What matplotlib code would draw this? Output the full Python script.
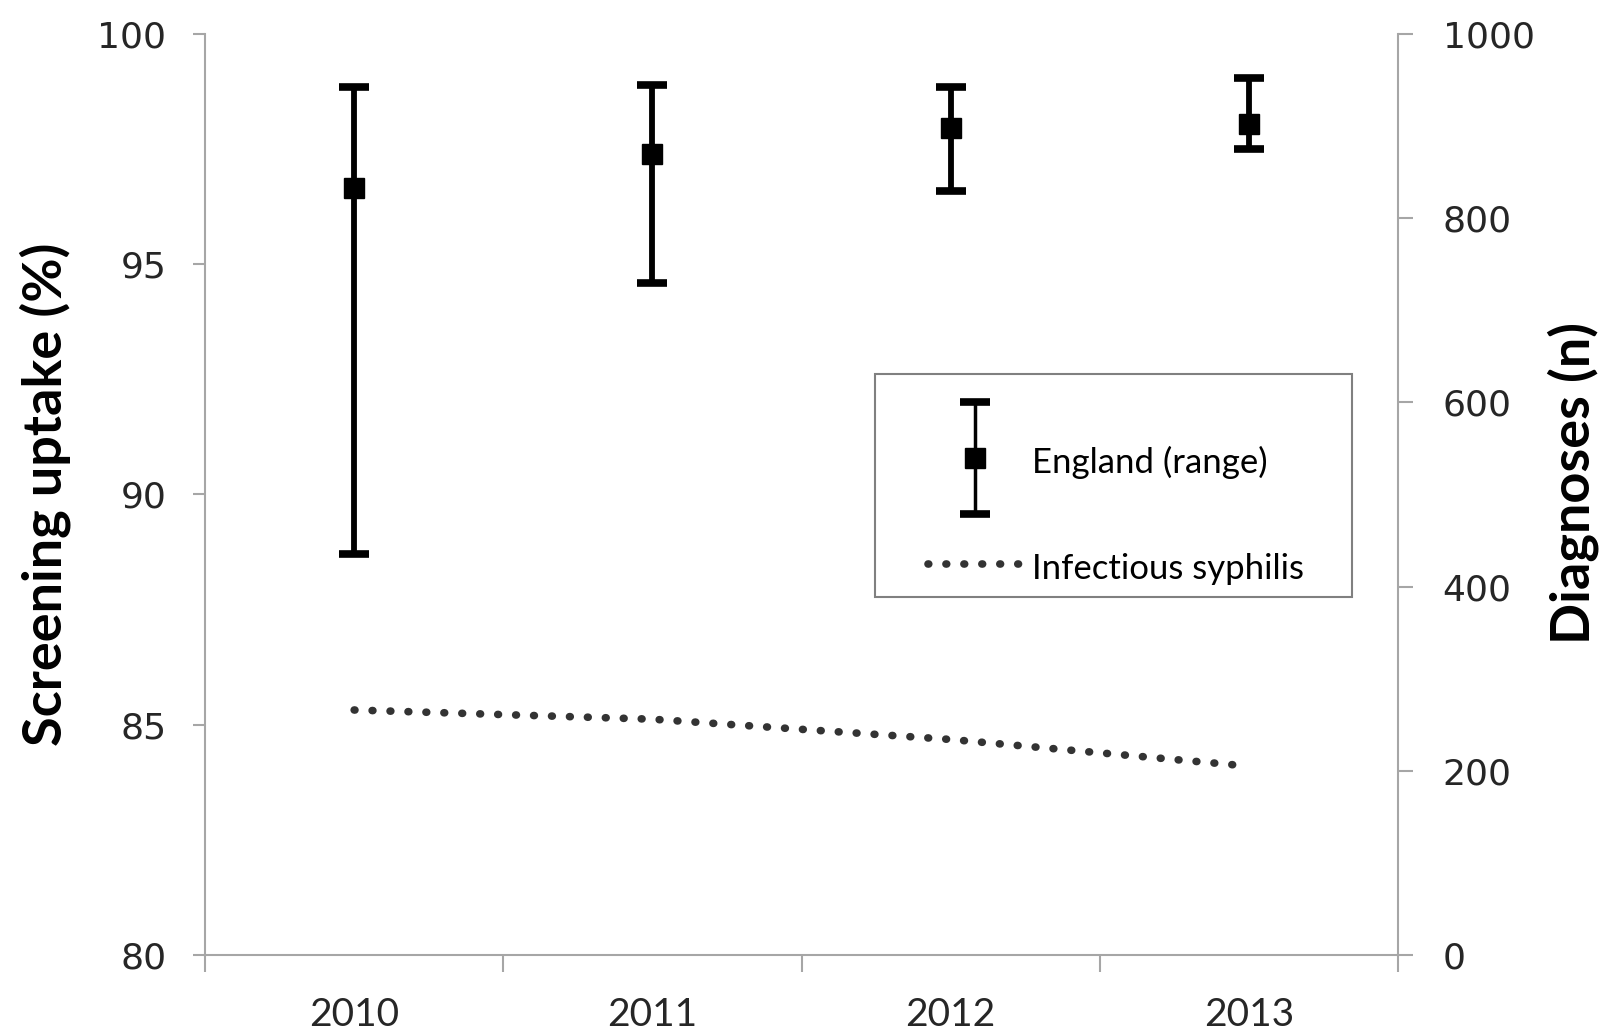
import matplotlib
matplotlib.use('Agg')
import matplotlib.pyplot as plt
import numpy as np
from matplotlib.patches import Rectangle
from matplotlib.container import ErrorbarContainer
from matplotlib.legend_handler import HandlerErrorbar

# Data
years = ['2010', '2011', '2012', '2013']
uptake_mid = [96.65, 97.4, 97.95, 98.05]
uptake_low = [88.7, 94.6, 96.6, 97.5]
uptake_high = [98.85, 98.9, 98.85, 99.05]
syphilis = [266, 256, 234, 205]

gray = '#a6a6a6'
tick_col = '#262626'

x = np.arange(len(years))
mid = np.array(uptake_mid)
yerr = [mid - np.array(uptake_low), np.array(uptake_high) - mid]

fig = plt.figure(figsize=(16.07, 10.35), dpi=100)
ax = fig.add_axes([0.1276, 0.0773, 0.7424, 0.8899])
ax2 = ax.twinx()

# England range (error bars)
eb = ax.errorbar(x, mid, yerr=yerr, fmt='s', color='black', ms=14,
                 elinewidth=4.2, capsize=11, capthick=5.5, zorder=3)

# Infectious syphilis (dotted line, right axis)
line, = ax2.plot(x, syphilis, color='#333333', lw=5.5,
                 linestyle=(0, (0.1, 2.25)), dash_capstyle='round')

# axes limits / ticks
ax.set_xlim(-0.5, 3.5)
ax.set_ylim(80, 100)
ax.set_yticks(range(80, 101, 5))
ax2.set_ylim(0, 1000)
ax2.set_yticks(range(0, 1001, 200))

ax.set_xticks(np.arange(-0.5, 4, 1))
ax.set_xticklabels([])
ax.set_xticks(x, minor=True)
ax.set_xticklabels(years, minor=True, fontsize=28, fontfamily='Lato', color=tick_col)
ax.tick_params(axis='x', which='major', length=12, width=1.5, color=gray)
ax.tick_params(axis='x', which='minor', length=0, pad=30)
ax.tick_params(axis='y', length=9, width=1.5, color=gray, pad=19,
               labelsize=26, labelcolor=tick_col)
ax2.tick_params(axis='y', length=11, width=1.5, color=gray, pad=21,
                labelsize=26, labelcolor=tick_col)

for a in (ax, ax2):
    a.spines['top'].set_visible(False)
    for s in a.spines.values():
        s.set_color(gray)
        s.set_linewidth(1.5)
ax.spines['right'].set_visible(False)
ax2.spines['left'].set_visible(False)
ax2.spines['bottom'].set_visible(False)

# axis labels
ax.set_ylabel('Screening uptake (%)', fontsize=39, fontweight='bold',
              fontfamily='Lato', va='center', ha='center')
ax.yaxis.set_label_coords(-0.134, 0.5)
ax2.set_ylabel('Diagnoses (n)', fontsize=39, fontweight='bold',
               fontfamily='Lato', va='center', ha='center', rotation=90)
ax2.yaxis.set_label_coords(1.1467, 0.5125)

# legend with separate frame
ax2.add_patch(Rectangle((0.5616, 0.3887), 0.3998, 0.2421, transform=ax2.transAxes,
                        facecolor='white', edgecolor='#808080', lw=1.5, zorder=4))
leg = ax2.legend([eb, line], ['England (range)', 'Infectious syphilis'],
                 loc='center left', bbox_to_anchor=(0.606, 0.4788), frameon=False,
                 prop={'family': 'Lato', 'size': 25}, handlelength=2.7,
                 handletextpad=0.3, handleheight=1.2, labelspacing=2.02,
                 borderpad=0, borderaxespad=0,
                 handler_map={ErrorbarContainer: HandlerErrorbar(yerr_size=1.62, numpoints=1)})
leg.set_zorder(5)
leg.legend_handles[0].set_linewidth(2.5)

fig.savefig('out.png', dpi=100)
